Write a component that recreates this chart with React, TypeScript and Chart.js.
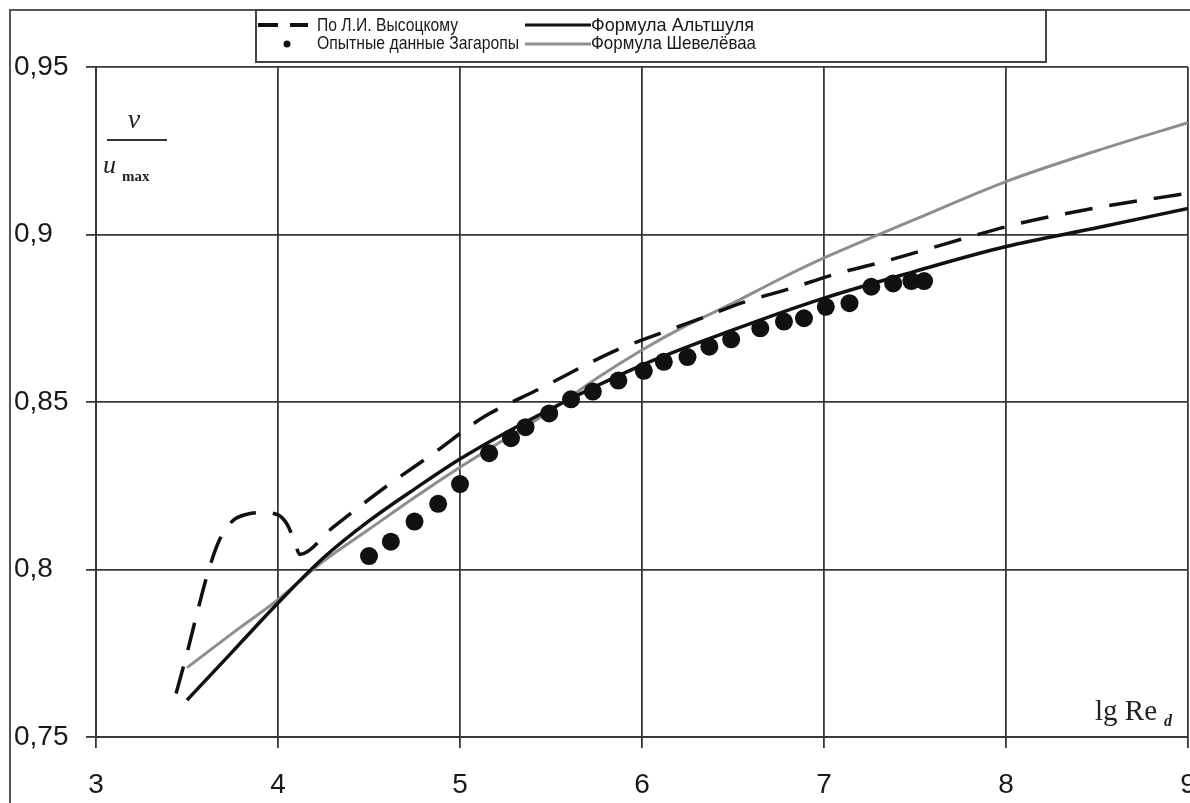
import React, { useEffect, useRef } from "react";
import { Chart, registerables } from "chart.js";

Chart.register(...registerables);

// ---- data ----
const xTickValues = [3, 4, 5, 6, 7, 8, 9];
const xTickLabels = ["3", "4", "5", "6", "7", "8", "9"];
const yTickValues = [0.75, 0.8, 0.85, 0.9, 0.95];
const yTickLabels = ["0,75", "0,8", "0,85", "0,9", "0,95"];

const seriesNames = [
  "По Л.И. Высоцкому",
  "Опытные данные Загаропы",
  "Формула Альтшуля",
  "Формула Шевелёваа",
];

const vysotskyX = [3.44, 3.5, 3.56, 3.62, 3.68, 3.75, 3.83, 3.92, 4.0, 4.05, 4.09, 4.12, 4.3, 4.6, 4.85, 5.13, 5.44, 5.86, 6.1, 6.35, 6.56, 6.81, 7.07, 7.32, 7.58, 7.8, 8.05, 8.5, 9.0];
const vysotskyY = [0.763, 0.775, 0.788, 0.8, 0.809, 0.8145, 0.8165, 0.817, 0.8163, 0.8135, 0.8085, 0.8045, 0.8125, 0.825, 0.8345, 0.8455, 0.854, 0.8655, 0.8705, 0.8755, 0.8798, 0.8838, 0.8883, 0.8918, 0.8958, 0.8993, 0.903, 0.908, 0.9123];

const altshulX = [3.5, 3.75, 4.0, 4.25, 4.5, 4.75, 5.0, 5.5, 6.0, 6.5, 7.0, 7.5, 8.0, 8.5, 9.0];
const altshulY = [0.761, 0.7755, 0.79, 0.8035, 0.8145, 0.824, 0.833, 0.848, 0.861, 0.8715, 0.881, 0.889, 0.8964, 0.902, 0.9078];

const shevelevX = [3.5, 3.75, 4.0, 4.25, 4.5, 4.75, 5.0, 5.25, 5.5, 5.75, 6.0, 6.25, 6.5, 6.75, 7.0, 7.5, 8.0, 8.5, 9.0];
const shevelevY = [0.7707, 0.781, 0.791, 0.8025, 0.812, 0.8215, 0.8305, 0.839, 0.8475, 0.857, 0.8655, 0.873, 0.8795, 0.8865, 0.893, 0.9045, 0.9158, 0.925, 0.9334];

const zagaropaX = [4.5, 4.62, 4.75, 4.88, 5.0, 5.16, 5.28, 5.36, 5.49, 5.61, 5.73, 5.87, 6.01, 6.12, 6.25, 6.37, 6.49, 6.65, 6.78, 6.89, 7.01, 7.14, 7.26, 7.38, 7.48, 7.55];
const zagaropaY = [0.804, 0.8083, 0.8143, 0.8196, 0.8255, 0.8347, 0.8392, 0.8425, 0.8466, 0.8508, 0.8531, 0.8564, 0.8593, 0.862, 0.8634, 0.8665, 0.8687, 0.872, 0.874, 0.875, 0.8784, 0.8795, 0.8844, 0.8854, 0.8861, 0.8861];

const toPts = (xs: number[], ys: number[]) => xs.map((x, i) => ({ x, y: ys[i] }));

const GRAY = "#8e8e8e";
const INK = "#111";
const GRID = "#383838";

const decorPlugin = {
  id: "decor",
  afterDraw(chart: any) {
    const ctx = chart.ctx as CanvasRenderingContext2D;
    ctx.save();
    // outer frame
    ctx.strokeStyle = "#555";
    ctx.lineWidth = 2;
    ctx.beginPath();
    ctx.moveTo(10, 830);
    ctx.lineTo(10, 10);
    ctx.lineTo(1300, 10);
    ctx.stroke();

    // legend box
    ctx.fillStyle = "#fff";
    ctx.fillRect(256, 10, 790, 52);
    ctx.strokeStyle = "#444";
    ctx.lineWidth = 2;
    ctx.strokeRect(256, 10, 790, 52);

    // samples
    ctx.strokeStyle = INK;
    ctx.lineWidth = 4;
    ctx.beginPath();
    ctx.moveTo(258, 25); ctx.lineTo(278, 25);
    ctx.moveTo(290, 25); ctx.lineTo(308, 25);
    ctx.stroke();
    ctx.fillStyle = INK;
    ctx.beginPath();
    ctx.arc(287, 44, 3.5, 0, Math.PI * 2);
    ctx.fill();
    ctx.lineWidth = 3;
    ctx.beginPath();
    ctx.moveTo(525, 25); ctx.lineTo(591, 25);
    ctx.stroke();
    ctx.strokeStyle = GRAY;
    ctx.beginPath();
    ctx.moveTo(525, 44); ctx.lineTo(591, 44);
    ctx.stroke();

    // legend texts
    const texts: [string, number, number, number][] = [
      [seriesNames[0], 317, 26, 141],
      [seriesNames[1], 317, 44, 202],
      [seriesNames[2], 591, 26, 163],
      [seriesNames[3], 591, 44, 165],
    ];
    ctx.fillStyle = "#1a1a1a";
    ctx.font = "19px 'Liberation Sans', Arial, sans-serif";
    ctx.textBaseline = "middle";
    ctx.textAlign = "left";
    for (const [t, x, y, w] of texts) {
      const m = ctx.measureText(t).width;
      ctx.save();
      ctx.translate(x, y);
      ctx.scale(w / m, 1);
      ctx.fillText(t, 0, 0);
      ctx.restore();
    }

    // y-axis title: v / u_max
    ctx.fillStyle = "#222";
    ctx.textAlign = "center";
    ctx.textBaseline = "alphabetic";
    ctx.font = "italic 28px 'Liberation Serif', 'DejaVu Serif', serif";
    ctx.fillText("ν", 134, 128);
    ctx.strokeStyle = "#333";
    ctx.lineWidth = 2;
    ctx.beginPath();
    ctx.moveTo(107, 140); ctx.lineTo(167, 140);
    ctx.stroke();
    ctx.textAlign = "left";
    ctx.font = "italic 26px 'Liberation Serif', 'DejaVu Serif', serif";
    ctx.fillText("u", 103, 173);
    ctx.font = "bold 15px 'Liberation Serif', 'DejaVu Serif', serif";
    ctx.fillText("max", 122, 181);

    // x-axis title: lg Re_d
    ctx.font = "29px 'Liberation Serif', 'DejaVu Serif', serif";
    ctx.fillText("lg Re", 1095, 720);
    ctx.font = "italic bold 16px 'Liberation Serif', 'DejaVu Serif', serif";
    ctx.fillText("d", 1164, 726);
    ctx.restore();
  },
};

export default function App() {
  const ref = useRef<HTMLCanvasElement | null>(null);

  useEffect(() => {
    const canvas = ref.current;
    if (!canvas) return;
    const tickFont = { family: "'Liberation Sans', Arial, sans-serif", size: 28 };
    const chart = new Chart(canvas, {
      type: "line",
      data: {
        datasets: [
          {
            label: seriesNames[1],
            data: toPts(zagaropaX, zagaropaY),
            showLine: false,
            pointRadius: 9,
            pointBackgroundColor: INK,
            pointBorderWidth: 0,
            borderColor: INK,
            order: 0,
          },
          {
            label: seriesNames[2],
            data: toPts(altshulX, altshulY),
            borderColor: INK,
            borderWidth: 3.5,
            pointRadius: 0,
            cubicInterpolationMode: "monotone",
            order: 1,
          },
          {
            label: seriesNames[0],
            data: toPts(vysotskyX, vysotskyY),
            borderColor: INK,
            borderWidth: 3.5,
            borderDash: [28, 17],
            pointRadius: 0,
            cubicInterpolationMode: "monotone",
            order: 2,
          },
          {
            label: seriesNames[3],
            data: toPts(shevelevX, shevelevY),
            borderColor: GRAY,
            borderWidth: 3,
            pointRadius: 0,
            cubicInterpolationMode: "monotone",
            order: 3,
          },
        ],
      },
      options: {
        animation: false,
        responsive: false,
        devicePixelRatio: 1,
        layout: { padding: { left: 14, top: 67, right: 52, bottom: 0 } },
        plugins: { legend: { display: false }, tooltip: { enabled: false }, title: { display: false } },
        scales: {
          x: {
            type: "linear",
            min: 3,
            max: 9,
            afterBuildTicks: (s: any) => { s.ticks = xTickValues.map((v) => ({ value: v })); },
            afterFit: (s: any) => { s.height = 66; },
            ticks: {
              callback: (_v: any, i: number) => xTickLabels[i],
              font: tickFont,
              color: "#1a1a1a",
              padding: 20,
              maxRotation: 0,
              autoSkip: false,
            },
            grid: { color: GRID, lineWidth: 1.8, tickLength: 11, drawTicks: true },
            border: { display: true, color: GRID, width: 2 },
          },
          y: {
            type: "linear",
            min: 0.75,
            max: 0.95,
            afterBuildTicks: (s: any) => { s.ticks = yTickValues.map((v) => ({ value: v })); },
            afterFit: (s: any) => { s.width = 82; },
            ticks: {
              callback: (_v: any, i: number) => yTickLabels[i],
              font: tickFont,
              color: "#1a1a1a",
              crossAlign: "far",
              autoSkip: false,
            },
            grid: { color: GRID, lineWidth: 1.8, tickLength: 10, drawTicks: true },
            border: { display: true, color: GRID, width: 2 },
          },
        },
      },
      plugins: [decorPlugin],
    } as any);
    return () => chart.destroy();
  }, []);

  return (
    <div style={{ position: "fixed", left: 0, top: 0, width: 1190, height: 803, overflow: "hidden", background: "#fff" }}>
      <canvas ref={ref} width={1240} height={803} style={{ display: "block", width: 1240, height: 803 }} />
    </div>
  );
}
